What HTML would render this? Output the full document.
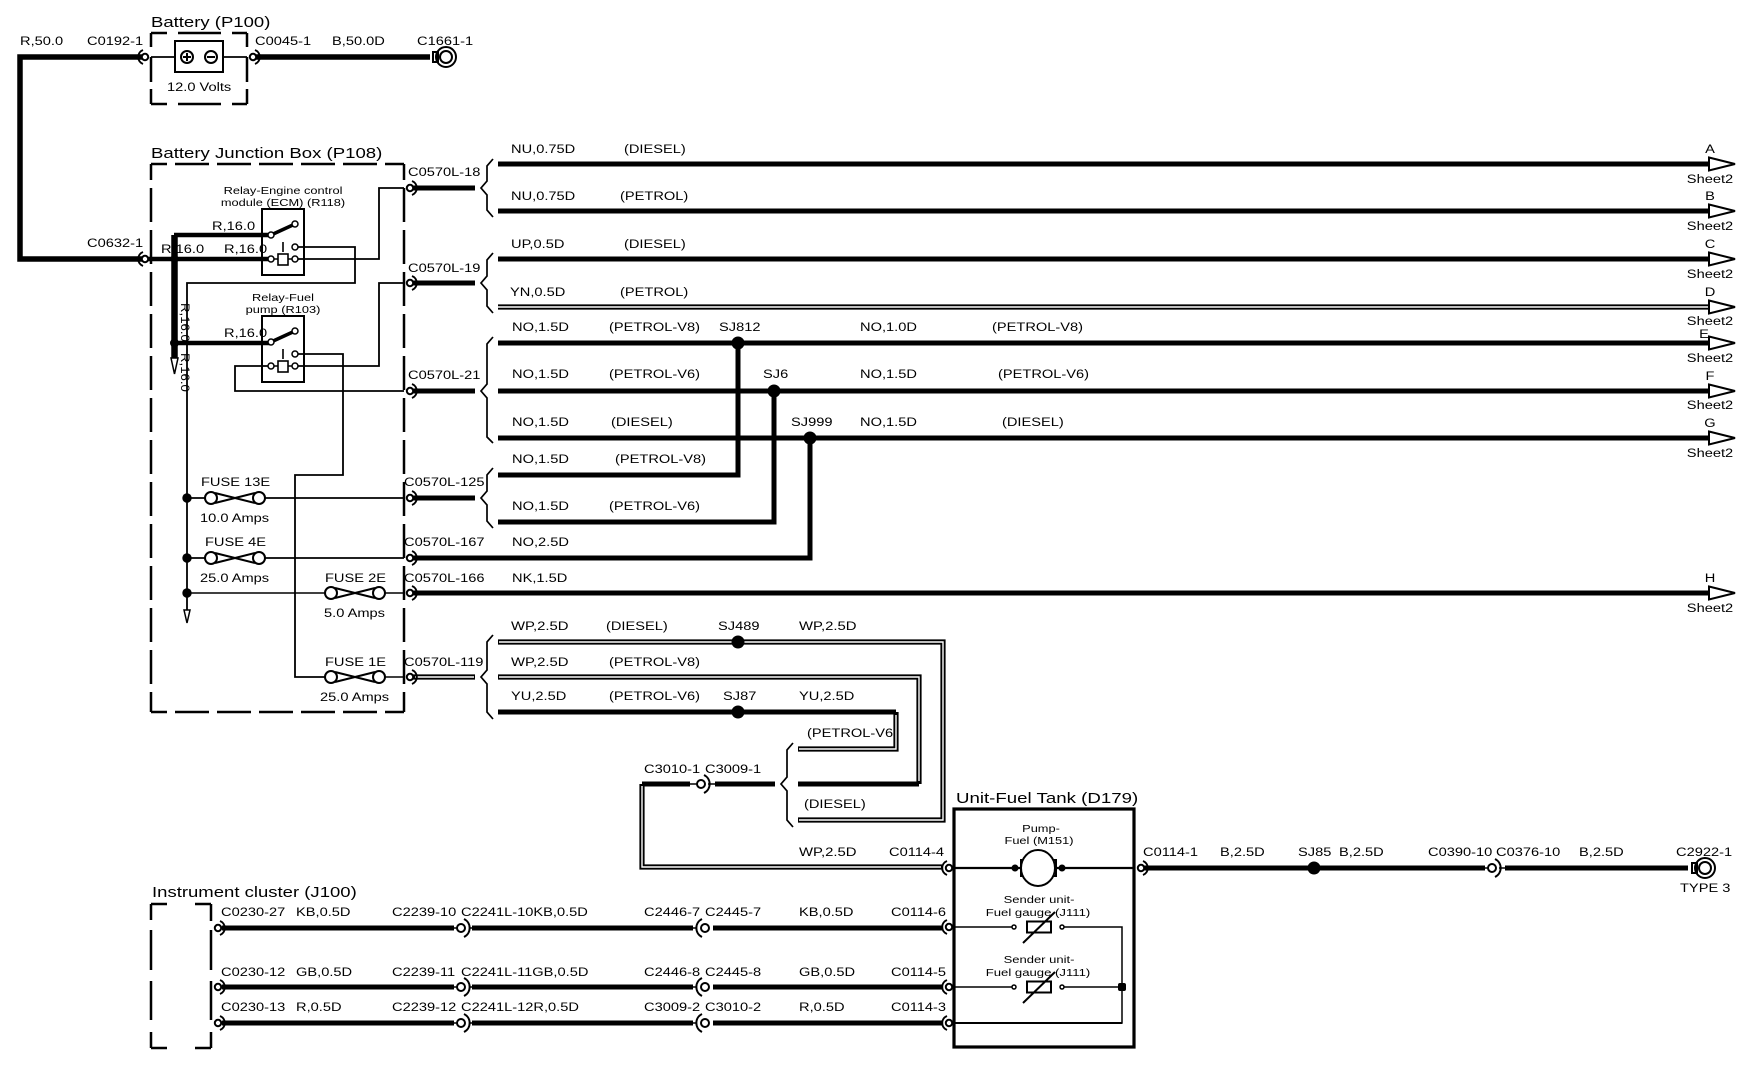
<!DOCTYPE html>
<html><head><meta charset="utf-8"><style>
html,body{margin:0;padding:0;background:#fff}
svg{display:block;font-family:"Liberation Sans",sans-serif;font-size:12px;fill:#000}
.b{font-size:15px}.s{font-size:10.5px}
.n{fill:none;stroke:#000}
.w{fill:none;stroke:#fff}
.m{text-anchor:middle}
</style></head><body>
<svg width="1750" height="1072" viewBox="0 0 1750 1072" xmlns="http://www.w3.org/2000/svg">
<defs>
<g id="cl" class="n" stroke-width="2"><circle r="3.2" fill="#fff"/><path d="M-2 -7A7.5 7.5 0 0 0 -2 7"/></g>
<g id="cr" class="n" stroke-width="2"><circle r="3.2" fill="#fff"/><path d="M2 -7A7.5 7.5 0 0 1 2 7"/></g>
<g id="bl" class="n" stroke-width="2"><circle r="4" fill="#fff"/><path d="M-3 -9A10 10 0 0 0 -3 9"/></g>
<g id="br" class="n" stroke-width="2"><circle r="4" fill="#fff"/><path d="M3 -9A10 10 0 0 1 3 9"/></g>
<g id="arr"><path d="M-1 -6.5L25 0L-1 6.5Z" fill="#fff" stroke="#000" stroke-width="2"/></g>
<g id="fuse" class="n" stroke-width="2"><circle cx="6" r="6"/><circle cx="54" r="6"/><path d="M10 -5L30 0L10 5M50 -5L30 0L50 5M30 -1V1"/></g>
<g id="gnd" class="n" stroke-width="2"><rect x="-13" y="-5" width="5" height="10" fill="#fff"/><circle r="10"/><circle r="6"/></g>
<g id="relay">
<rect x="262" y="209" width="42" height="66" class="n" stroke-width="2" fill="none"/>
<path d="M271 235L295 224" class="n" stroke-width="3.6"/>
<circle cx="271" cy="235" r="3" fill="#fff" stroke="#000" stroke-width="1.5"/>
<circle cx="295" cy="224" r="3" fill="#fff" stroke="#000" stroke-width="1.5"/>
<rect x="278" y="254" width="10" height="11" fill="#fff" stroke="#000" stroke-width="1.6"/>
<path d="M283 242V252M274 259H278M288 259H292" class="n" stroke-width="1.6"/>
<circle cx="271" cy="259" r="3" fill="#fff" stroke="#000" stroke-width="1.5"/>
<circle cx="295" cy="247" r="3" fill="#fff" stroke="#000" stroke-width="1.5"/>
<circle cx="295" cy="259" r="3" fill="#fff" stroke="#000" stroke-width="1.5"/>
</g>
<g id="res"><rect x="-12" y="-5.5" width="24" height="11" fill="#fff" stroke="#000" stroke-width="2"/><path d="M-16 16L16 -15" class="n" stroke-width="2"/><circle cx="-25" r="2" fill="#fff" stroke="#000" stroke-width="1.5"/><circle cx="23" r="2" fill="#fff" stroke="#000" stroke-width="1.5"/></g>
</defs>

<!-- dashed enclosures -->
<g class="n" stroke-width="2.5">
<path d="M151 33H167M178 33H221M232 33H247M151 104H167M178 104H221M232 104H247M151 33V47M151 57V82M151 89V104M247 33V47M247 57V82M247 89V104"/>
<path d="M151 164H404M151 712H404M151 164V712M404 164V712" stroke-dasharray="34 8" stroke-dashoffset="18"/>
<path d="M151 904H167M195 904H211M151 1048H167M195 1048H211M151 904V920M151 930V970M151 981V1020M151 1032V1048M211 904V921M211 930V970M211 981V1020M211 1032V1048"/>
<rect x="954" y="809" width="180" height="238" stroke-width="3.2"/>
</g>

<!-- battery -->
<rect x="175" y="41" width="48" height="31" class="n" stroke-width="2"/>
<path d="M151 57H175M223 57H247" class="n" stroke-width="1.8"/>
<circle cx="187" cy="57" r="6" class="n" stroke-width="2"/><path d="M183 57H191M187 53V61M207 57H215" class="n" stroke-width="2"/>
<circle cx="211" cy="57" r="6" class="n" stroke-width="2"/>

<!-- thick wires -->
<g class="n" stroke-width="5">
<path d="M143 57H20V259H143" stroke-width="5.5"/>
<path d="M256 57H430" stroke-width="5.5"/>
<path d="M143 259H271M174 235H271M174 343H271" stroke-width="4.5"/>
<path d="M174.5 235V362" stroke-width="6.5"/>
<path d="M413 188H475M413 283H475M413 391H475M413 498H475M413 558H810V438M413 593H1710"/>
<path d="M498 164H1710M498 211H1710M498 259H1710M498 343H1710M498 391H1710M498 438H1710"/>
<path d="M498 475H738V343M498 522H774V391"/>
<path d="M498 712H896M798 784H919"/>
<path d="M642 784H690M715 784H775M1144 868H1485M1505 868H1688"/>
<path d="M222 928H454M472 928H693M713 928H943M222 987H454M472 987H693M713 987H943M222 1023H454M472 1023H693M713 1023H943"/>
</g>
<!-- double wires -->
<g>
<path d="M498 307H1710M413 677H475M498 642H943V820H798M498 677H919V784M896 712V749H798M642 784V867H942" class="n" stroke-width="5.2"/>
<path d="M498 307H1708M415 677H474M499 642H943V820H799M499 677H919V781M896 715V749H799M642 786V867H941" class="w" stroke-width="1.4"/>
</g>

<!-- in-line connector stubs -->
<path d="M454 928H458M454 987H458M454 1023H458M693 928H697M693 987H697M693 1023H697M690 784H698M708 784H715M1485 868H1489M1499 868H1505M470 928H473M470 987H473M470 1023H473" class="n" stroke-width="1.6"/>

<!-- thin wires -->
<g class="n" stroke-width="1.8">
<path d="M298 247H355V283H187V610"/>
<path d="M298 259H379V188H404"/>
<path d="M298 354H343V475H295V677H325"/>
<path d="M298 366H379V283H404"/>
<path d="M268 366H235V391H404"/>
<path d="M187 498H205M265 498H404M187 558H205M265 558H404"/>
<path d="M187 593H325M385 593H404M385 677H404" stroke-width="1.4"/>
<path d="M954 868H1020M1056 868H1134" stroke-width="2.2"/>
<path d="M954 927H1012M1064 927H1122V1023H954M954 987H1012M1064 987H1122" stroke-width="1.5"/>
<path d="M954 1023H1122" stroke-width="2"/>
</g>

<!-- braces -->
<g class="n" stroke-width="1.7">
<path d="M493 159L487 166V181L481 188L487 195V210L493 217"/>
<path d="M493 253L487 260V276L481 283L487 290V306L493 313"/>
<path d="M493 337L487 344V384L481 391L487 398V437L493 443"/>
<path d="M493 468L487 475V491L481 498L487 505V521L493 528"/>
<path d="M493 635L487 642V670L481 677L487 684V712L493 719"/>
<path d="M793 743L787 750V777L781 784L787 791V820L793 827"/>
</g>

<!-- relays -->
<use href="#relay"/>
<use href="#relay" transform="translate(0 107)"/>

<!-- fuses -->
<use href="#fuse" x="205" y="498"/>
<use href="#fuse" x="205" y="558"/>
<use href="#fuse" x="325" y="593"/>
<use href="#fuse" x="325" y="677"/>

<!-- dots -->
<circle cx="174.5" cy="259" r="4"/><circle cx="174.5" cy="343" r="4.5"/>
<circle cx="187" cy="498" r="4.7"/><circle cx="187" cy="558" r="4.7"/><circle cx="187" cy="593" r="4.7"/>
<circle cx="738" cy="343" r="6.5"/><circle cx="774" cy="391" r="6.5"/><circle cx="810" cy="438" r="6.5"/>
<circle cx="738" cy="642" r="6.5"/><circle cx="738" cy="712" r="6.5"/><circle cx="1314" cy="868" r="6.5"/>
<rect x="1118" y="983" width="8" height="8" rx="2"/>
<path d="M171 358L174.5 374L178 358Z" fill="#fff" stroke="#000" stroke-width="1.5"/>
<path d="M184 610L187 623L190 610Z" fill="#fff" stroke="#000" stroke-width="1.5"/>

<!-- motor -->
<path d="M1021 860H1028V876H1021ZM1048 860H1056V876H1048Z" class="n" stroke-width="2"/>
<ellipse cx="1038" cy="868" rx="17" ry="18" fill="#fff" stroke="#000" stroke-width="2"/>
<circle cx="1015" cy="868" r="3.5"/><circle cx="1062" cy="868" r="3.5"/>
<use href="#res" x="1039" y="927"/>
<use href="#res" x="1039" y="987"/>

<!-- connectors -->
<use href="#cl" x="145" y="57"/><use href="#cl" x="145" y="259"/>
<use href="#cr" x="253" y="57"/>
<use href="#cr" x="410" y="188"/><use href="#cr" x="410" y="283"/><use href="#cr" x="410" y="391"/>
<use href="#cr" x="410" y="498"/><use href="#cr" x="410" y="558"/><use href="#cr" x="410" y="593"/><use href="#cr" x="410" y="677"/>
<use href="#cr" x="218" y="928"/><use href="#cr" x="218" y="987"/><use href="#cr" x="218" y="1023"/>
<use href="#cl" x="949" y="868"/><use href="#cl" x="949" y="927"/><use href="#cl" x="949" y="987"/><use href="#cl" x="949" y="1023"/>
<use href="#cr" x="1141" y="868"/>
<use href="#br" x="461" y="928"/><use href="#br" x="461" y="987"/><use href="#br" x="461" y="1023"/>
<use href="#bl" x="705" y="928"/><use href="#bl" x="705" y="987"/><use href="#bl" x="705" y="1023"/>
<use href="#br" x="701" y="784"/><use href="#br" x="1492" y="868"/>
<use href="#gnd" x="446" y="57"/><use href="#gnd" x="1705" y="868"/>

<!-- arrowheads -->
<use href="#arr" x="1710" y="164"/><use href="#arr" x="1710" y="211"/><use href="#arr" x="1710" y="259"/><use href="#arr" x="1710" y="307"/>
<use href="#arr" x="1710" y="343"/><use href="#arr" x="1710" y="391"/><use href="#arr" x="1710" y="438"/><use href="#arr" x="1710" y="593"/>

<!-- titles -->
<text class="b" transform="matrix(1.235 0 0 1 151 27)">Battery (P100)</text>
<text class="b" transform="matrix(1.24 0 0 1 151 158)">Battery Junction Box (P108)</text>
<text class="b" transform="matrix(1.245 0 0 1 956 803)">Unit-Fuel Tank (D179)</text>
<text class="b" transform="matrix(1.235 0 0 1 152 897)">Instrument cluster (J100)</text>

<!-- top -->
<text transform="matrix(1.22 0 0 1 20 45)">R,50.0</text>
<text transform="matrix(1.22 0 0 1 87 45)">C0192-1</text>
<text transform="matrix(1.22 0 0 1 255 45)">C0045-1</text>
<text transform="matrix(1.22 0 0 1 332 45)">B,50.0D</text>
<text transform="matrix(1.22 0 0 1 417 45)">C1661-1</text>
<text transform="matrix(1.22 0 0 1 167 91)">12.0 Volts</text>

<!-- junction box -->
<text class="s m" transform="matrix(1.22 0 0 1 283 194)">Relay-Engine control</text>
<text class="s m" transform="matrix(1.22 0 0 1 283 206)">module (ECM) (R118)</text>
<text class="s m" transform="matrix(1.22 0 0 1 283 301)">Relay-Fuel</text>
<text class="s m" transform="matrix(1.22 0 0 1 283 313)">pump (R103)</text>
<text transform="matrix(1.22 0 0 1 212 230)">R,16.0</text>
<text transform="matrix(1.22 0 0 1 87 247)">C0632-1</text>
<text transform="matrix(1.22 0 0 1 161 253)">R,16.0</text>
<text transform="matrix(1.22 0 0 1 224 253)">R,16.0</text>
<text transform="matrix(1.22 0 0 1 224 337)">R,16.0</text>
<text transform="matrix(0 1.1 -1 0 181 303)">R,16.0</text>
<text transform="matrix(0 1.1 -1 0 181 353)">R,16.0</text>
<text transform="matrix(1.22 0 0 1 201 486)">FUSE 13E</text>
<text transform="matrix(1.22 0 0 1 200 522)">10.0 Amps</text>
<text transform="matrix(1.22 0 0 1 205 546)">FUSE 4E</text>
<text transform="matrix(1.22 0 0 1 200 582)">25.0 Amps</text>
<text transform="matrix(1.22 0 0 1 325 582)">FUSE 2E</text>
<text transform="matrix(1.22 0 0 1 324 617)">5.0 Amps</text>
<text transform="matrix(1.22 0 0 1 325 666)">FUSE 1E</text>
<text transform="matrix(1.22 0 0 1 320 701)">25.0 Amps</text>
<text transform="matrix(1.22 0 0 1 408 176)">C0570L-18</text>
<text transform="matrix(1.22 0 0 1 408 272)">C0570L-19</text>
<text transform="matrix(1.22 0 0 1 408 379)">C0570L-21</text>
<text transform="matrix(1.22 0 0 1 404 486)">C0570L-125</text>
<text transform="matrix(1.22 0 0 1 404 546)">C0570L-167</text>
<text transform="matrix(1.22 0 0 1 404 582)">C0570L-166</text>
<text transform="matrix(1.22 0 0 1 404 666)">C0570L-119</text>

<!-- wire labels -->
<text transform="matrix(1.22 0 0 1 511 153)">NU,0.75D</text><text transform="matrix(1.22 0 0 1 624 153)">(DIESEL)</text>
<text transform="matrix(1.22 0 0 1 511 200)">NU,0.75D</text><text transform="matrix(1.22 0 0 1 620 200)">(PETROL)</text>
<text transform="matrix(1.22 0 0 1 511 248)">UP,0.5D</text><text transform="matrix(1.22 0 0 1 624 248)">(DIESEL)</text>
<text transform="matrix(1.22 0 0 1 510 296)">YN,0.5D</text><text transform="matrix(1.22 0 0 1 620 296)">(PETROL)</text>
<text transform="matrix(1.22 0 0 1 512 331)">NO,1.5D</text><text transform="matrix(1.22 0 0 1 609 331)">(PETROL-V8)</text><text transform="matrix(1.22 0 0 1 719 331)">SJ812</text><text transform="matrix(1.22 0 0 1 860 331)">NO,1.0D</text><text transform="matrix(1.22 0 0 1 992 331)">(PETROL-V8)</text>
<text transform="matrix(1.22 0 0 1 512 378)">NO,1.5D</text><text transform="matrix(1.22 0 0 1 609 378)">(PETROL-V6)</text><text transform="matrix(1.22 0 0 1 763 378)">SJ6</text><text transform="matrix(1.22 0 0 1 860 378)">NO,1.5D</text><text transform="matrix(1.22 0 0 1 998 378)">(PETROL-V6)</text>
<text transform="matrix(1.22 0 0 1 512 426)">NO,1.5D</text><text transform="matrix(1.22 0 0 1 611 426)">(DIESEL)</text><text transform="matrix(1.22 0 0 1 791 426)">SJ999</text><text transform="matrix(1.22 0 0 1 860 426)">NO,1.5D</text><text transform="matrix(1.22 0 0 1 1002 426)">(DIESEL)</text>
<text transform="matrix(1.22 0 0 1 512 463)">NO,1.5D</text><text transform="matrix(1.22 0 0 1 615 463)">(PETROL-V8)</text>
<text transform="matrix(1.22 0 0 1 512 510)">NO,1.5D</text><text transform="matrix(1.22 0 0 1 609 510)">(PETROL-V6)</text>
<text transform="matrix(1.22 0 0 1 512 546)">NO,2.5D</text>
<text transform="matrix(1.22 0 0 1 512 582)">NK,1.5D</text>
<text transform="matrix(1.24 0 0 1 511 630)">WP,2.5D</text><text transform="matrix(1.22 0 0 1 606 630)">(DIESEL)</text><text transform="matrix(1.22 0 0 1 718 630)">SJ489</text><text transform="matrix(1.24 0 0 1 799 630)">WP,2.5D</text>
<text transform="matrix(1.24 0 0 1 511 666)">WP,2.5D</text><text transform="matrix(1.22 0 0 1 609 666)">(PETROL-V8)</text>
<text transform="matrix(1.22 0 0 1 511 700)">YU,2.5D</text><text transform="matrix(1.22 0 0 1 609 700)">(PETROL-V6)</text><text transform="matrix(1.22 0 0 1 723 700)">SJ87</text><text transform="matrix(1.22 0 0 1 799 700)">YU,2.5D</text>
<text transform="matrix(1.22 0 0 1 807 737)">(PETROL-V6</text>
<text transform="matrix(1.22 0 0 1 804 808)">(DIESEL)</text>
<text transform="matrix(1.22 0 0 1 644 773)">C3010-1</text><text transform="matrix(1.22 0 0 1 705 773)">C3009-1</text>
<text transform="matrix(1.24 0 0 1 799 856)">WP,2.5D</text><text transform="matrix(1.22 0 0 1 889 856)">C0114-4</text>

<!-- sheet labels -->
<text class="m" transform="matrix(1.22 0 0 1 1710 153)">A</text><text class="m" transform="matrix(1.22 0 0 1 1710 183)">Sheet2</text>
<text class="m" transform="matrix(1.22 0 0 1 1710 200)">B</text><text class="m" transform="matrix(1.22 0 0 1 1710 230)">Sheet2</text>
<text class="m" transform="matrix(1.22 0 0 1 1710 248)">C</text><text class="m" transform="matrix(1.22 0 0 1 1710 278)">Sheet2</text>
<text class="m" transform="matrix(1.22 0 0 1 1710 296)">D</text><text class="m" transform="matrix(1.22 0 0 1 1710 325)">Sheet2</text>
<text class="m" transform="matrix(1.22 0 0 1 1704 338)">E</text><text class="m" transform="matrix(1.22 0 0 1 1710 362)">Sheet2</text>
<text class="m" transform="matrix(1.22 0 0 1 1710 380)">F</text><text class="m" transform="matrix(1.22 0 0 1 1710 409)">Sheet2</text>
<text class="m" transform="matrix(1.22 0 0 1 1710 427)">G</text><text class="m" transform="matrix(1.22 0 0 1 1710 457)">Sheet2</text>
<text class="m" transform="matrix(1.22 0 0 1 1710 582)">H</text><text class="m" transform="matrix(1.22 0 0 1 1710 612)">Sheet2</text>

<!-- instrument rows -->
<text transform="matrix(1.22 0 0 1 221 916)">C0230-27</text><text transform="matrix(1.22 0 0 1 296 916)">KB,0.5D</text><text transform="matrix(1.22 0 0 1 392 916)">C2239-10</text><text transform="matrix(1.22 0 0 1 461 916)">C2241L-10KB,0.5D</text><text transform="matrix(1.22 0 0 1 644 916)">C2446-7</text><text transform="matrix(1.22 0 0 1 705 916)">C2445-7</text><text transform="matrix(1.22 0 0 1 799 916)">KB,0.5D</text><text transform="matrix(1.22 0 0 1 891 916)">C0114-6</text>
<text transform="matrix(1.22 0 0 1 221 976)">C0230-12</text><text transform="matrix(1.22 0 0 1 296 976)">GB,0.5D</text><text transform="matrix(1.22 0 0 1 392 976)">C2239-11</text><text transform="matrix(1.22 0 0 1 461 976)">C2241L-11GB,0.5D</text><text transform="matrix(1.22 0 0 1 644 976)">C2446-8</text><text transform="matrix(1.22 0 0 1 705 976)">C2445-8</text><text transform="matrix(1.22 0 0 1 799 976)">GB,0.5D</text><text transform="matrix(1.22 0 0 1 891 976)">C0114-5</text>
<text transform="matrix(1.22 0 0 1 221 1011)">C0230-13</text><text transform="matrix(1.22 0 0 1 296 1011)">R,0.5D</text><text transform="matrix(1.22 0 0 1 392 1011)">C2239-12</text><text transform="matrix(1.22 0 0 1 461 1011)">C2241L-12R,0.5D</text><text transform="matrix(1.22 0 0 1 644 1011)">C3009-2</text><text transform="matrix(1.22 0 0 1 705 1011)">C3010-2</text><text transform="matrix(1.22 0 0 1 799 1011)">R,0.5D</text><text transform="matrix(1.22 0 0 1 891 1011)">C0114-3</text>

<!-- tank -->
<text class="s m" transform="matrix(1.22 0 0 1 1041 832)">Pump-</text>
<text class="s m" transform="matrix(1.22 0 0 1 1039 844)">Fuel (M151)</text>
<text class="s m" transform="matrix(1.24 0 0 1 1039 903)">Sender unit-</text>
<text class="s m" transform="matrix(1.25 0 0 1 1038 916)">Fuel gauge (J111)</text>
<text class="s m" transform="matrix(1.24 0 0 1 1039 963)">Sender unit-</text>
<text class="s m" transform="matrix(1.25 0 0 1 1038 976)">Fuel gauge (J111)</text>

<!-- right run -->
<text transform="matrix(1.22 0 0 1 1143 856)">C0114-1</text>
<text transform="matrix(1.22 0 0 1 1220 856)">B,2.5D</text>
<text transform="matrix(1.22 0 0 1 1298 856)">SJ85</text>
<text transform="matrix(1.22 0 0 1 1339 856)">B,2.5D</text>
<text transform="matrix(1.22 0 0 1 1428 856)">C0390-10</text>
<text transform="matrix(1.22 0 0 1 1496 856)">C0376-10</text>
<text transform="matrix(1.22 0 0 1 1579 856)">B,2.5D</text>
<text transform="matrix(1.22 0 0 1 1676 856)">C2922-1</text>
<text transform="matrix(1.22 0 0 1 1680 892)">TYPE 3</text>
</svg>
</body></html>
